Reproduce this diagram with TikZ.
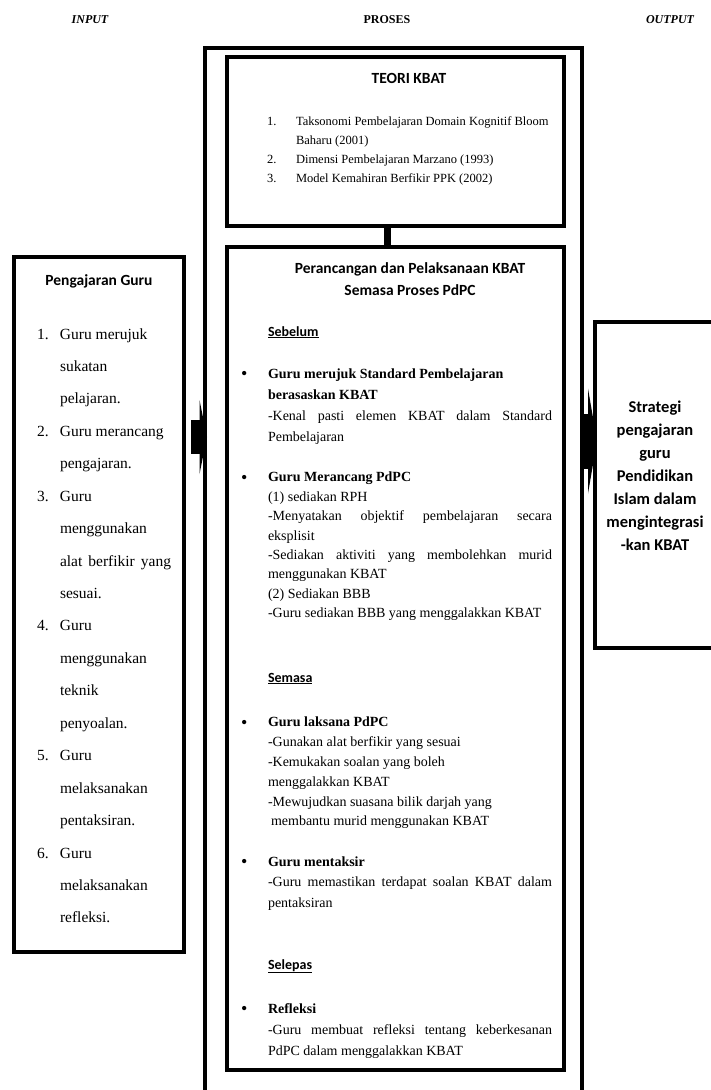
\documentclass[tikz,border=0pt]{standalone}
\usepackage{fontspec}
\setmainfont{Liberation Serif}
\newfontfamily\carl{Carlito}
\usetikzlibrary{arrows.meta}
\newcommand\fs[2]{\fontsize{#1}{#2}\selectfont}
\begin{document}
\begin{tikzpicture}[x=1pt,y=-1pt,
  frame/.style={draw=black, line width=3.2pt, inner sep=0pt, outer sep=0pt, anchor=north west},
  txt/.style={inner sep=0pt, outer sep=0pt},
  lines/.style={txt, anchor=north west, align=left},
  head/.style={txt, anchor=base, font=\carl\bfseries\fs{15.5}{22}},
  sub/.style={txt, anchor=base west, font=\carl\bfseries\fs{14}{17}},
  bul/.style={txt, anchor=base west, font=\fs{18}{20}},
  label/.style={txt, anchor=base, font=\fs{12}{14}\bfseries},
  blockarrow/.style={line width=#1, draw=black}
]
\useasboundingbox (0,0) rectangle (711,1090);
\clip (0,0) rectangle (711,1090);

% header labels
\node[label, font=\fs{12}{14}\bfseries\itshape] (hin) at (90,23) {INPUT};
\node[label] (hpr) at (387,23) {PROSES};
\node[label, font=\fs{12}{14}\bfseries\itshape] (hout) at (670,23) {OUTPUT};

% frames
\node[frame, minimum width=377pt, minimum height=1070pt] (proses) at (205,48) {};
\node[frame, minimum width=337pt, minimum height=169pt] (teori) at (227,57) {};
\node[frame, minimum width=337pt, minimum height=823pt] (pk) at (227,247) {};
\node[frame, minimum width=170pt, minimum height=695pt] (guru) at (14,257) {};
\node[frame, minimum width=160pt, minimum height=326pt] (out) at (595,322) {};

% connector between theory and design boxes
\draw[line width=7pt] ([xshift=-8pt]teori.south) -- ([xshift=-8pt]pk.north);

% block arrows
\coordinate (la0) at (191,437);
\coordinate (la1) at (207,437);
\coordinate (ra0) at (581,441);
\coordinate (ra1) at (597,441);
\draw[blockarrow=34pt, -{Triangle[width=74pt,length=7.5pt,line width=0pt]}] (la0) -- (la1);
\draw[blockarrow=55pt, -{Triangle[width=105pt,length=9pt,line width=0pt]}] (ra0) -- (ra1);

% TEORI KBAT
\node[head] (teorit) at (409,83) {TEORI KBAT};
\node[lines, font=\fs{12.5}{19}] (teoril) at (267,111.7) {\strut\makebox[29pt][l]{1.}Taksonomi Pembelajaran Domain Kognitif Bloom\\
\hspace*{29pt}Baharu (2001)\\
\makebox[29pt][l]{2.}Dimensi Pembelajaran Marzano (1993)\\
\makebox[29pt][l]{3.}Model Kemahiran Berfikir PPK (2002)};

% left box
\node[head] (gurut) at (99,285) {Pengajaran Guru};
\node[lines, font=\fs{15.5}{32.44}] (gurul) at (37,316.3) {\strut\makebox[23pt][l]{1.}Guru merujuk\\
\hspace*{23pt}sukatan\\
\hspace*{23pt}pelajaran.\\
\makebox[23pt][l]{2.}Guru merancang\\
\hspace*{23pt}pengajaran.\\
\makebox[23pt][l]{3.}Guru\\
\hspace*{23pt}menggunakan\\
\hspace*{23pt}\makebox[111pt][s]{alat berfikir yang}\\
\hspace*{23pt}sesuai.\\
\makebox[23pt][l]{4.}Guru\\
\hspace*{23pt}menggunakan\\
\hspace*{23pt}teknik\\
\hspace*{23pt}penyoalan.\\
\makebox[23pt][l]{5.}Guru\\
\hspace*{23pt}melaksanakan\\
\hspace*{23pt}pentaksiran.\\
\makebox[23pt][l]{6.}Guru\\
\hspace*{23pt}melaksanakan\\
\hspace*{23pt}refleksi.};

% right box
\node[txt, anchor=north, align=center, font=\carl\bfseries\fs{16.5}{23}] (outt) at (655,395.9) {\strut Strategi\\pengajaran\\guru\\Pendidikan\\Islam dalam\\mengintegrasi\\-kan KBAT};

% middle box
\node[txt, anchor=north, align=center, font=\carl\bfseries\fs{15.5}{22}] (pkt) at (410,257.6) {\strut Perancangan dan Pelaksanaan KBAT\\Semasa Proses PdPC};

\node[sub] (seb) at (268,336) {\underline{Sebelum}};
\node[bul] (b1) at (241,379) {\textbullet};
\node[lines, font=\fs{14}{21}] (t1) at (268,363.3) {\strut\textbf{Guru merujuk Standard Pembelajaran}\\
\textbf{berasaskan KBAT}\\
\makebox[284pt][s]{-Kenal pasti elemen KBAT dalam Standard}\\
Pembelajaran};

\node[bul] (b2) at (241,483) {\textbullet};
\node[lines, font=\fs{14}{19.4}] (t2) at (268,468.4) {\strut\textbf{Guru Merancang PdPC}\\
(1) sediakan RPH\\
\makebox[284pt][s]{-Menyatakan objektif pembelajaran secara}\\
eksplisit\\
\makebox[284pt][s]{-Sediakan aktiviti yang membolehkan murid}\\
menggunakan KBAT\\
(2) Sediakan BBB\\
-Guru sediakan BBB yang menggalakkan KBAT};

\node[sub] (sem) at (268,682) {\underline{Semasa}};
\node[bul] (b3) at (241,728) {\textbullet};
\node[lines, font=\fs{14}{19.8}] (t3) at (268,713.1) {\strut\textbf{Guru laksana PdPC}\\
-Gunakan alat berfikir yang sesuai\\
-Kemukakan soalan yang boleh\\
menggalakkan KBAT\\
-Mewujudkan suasana bilik darjah yang\\
\hspace*{3pt}membantu murid menggunakan KBAT};

\node[bul] (b4) at (241,867) {\textbullet};
\node[lines, font=\fs{14}{20.5}] (t4) at (268,851.65) {\strut\textbf{Guru mentaksir}\\
\makebox[284pt][s]{-Guru memastikan terdapat soalan KBAT dalam}\\
pentaksiran};

\node[sub] (sel) at (268,969) {\underline{Selepas}};
\node[bul] (b5) at (241,1014) {\textbullet};
\node[lines, font=\fs{14}{21}] (t5) at (268,998.3) {\strut\textbf{Refleksi}\\
\makebox[284pt][s]{-Guru membuat refleksi tentang keberkesanan}\\
PdPC dalam menggalakkan KBAT};
\end{tikzpicture}
\end{document}
